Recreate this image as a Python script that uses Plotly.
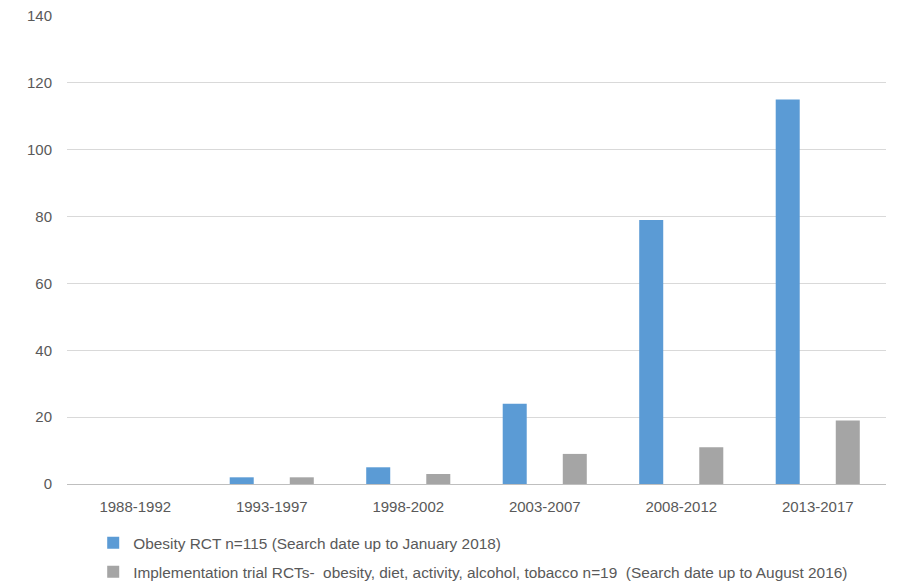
import plotly.graph_objects as go

categories = ["1988-1992", "1993-1997", "1998-2002", "2003-2007", "2008-2012", "2013-2017"]
obesity_rct = [0, 2, 5, 24, 79, 115]
implementation_rct = [0, 2, 3, 9, 11, 19]
name_obesity = "Obesity RCT n=115 (Search date up to January 2018)"
name_impl = "Implementation trial RCTs-  obesity, diet, activity, alcohol, tobacco n=19  (Search date up to August 2016)"

FONT = "Liberation Sans, Arial, sans-serif"
TXT = "#595959"
FS = 15

fig = go.Figure()
fig.add_trace(go.Bar(x=categories, y=obesity_rct, name=name_obesity,
                     marker=dict(color="#5B9BD5", line=dict(width=0)), legend="legend"))
fig.add_trace(go.Bar(x=categories, y=implementation_rct, name=name_impl,
                     marker=dict(color="#A5A5A5", line=dict(width=0)), legend="legend2"))

legend_common = dict(orientation="v", xanchor="left", yanchor="top", yref="container",
                     font=dict(family=FONT, size=15.4, color=TXT),
                     bgcolor="rgba(0,0,0,0)", itemwidth=30, itemclick=False)

fig.update_layout(
    width=897, height=582,
    margin=dict(l=67, r=11, t=16, b=98, autoexpand=False),
    paper_bgcolor="white", plot_bgcolor="white",
    barmode="group", bargap=0.12, bargroupgap=0.6,
    font=dict(family=FONT, size=FS, color=TXT),
    showlegend=True,
    legend=dict(x=0.032, y=0.096, **legend_common),
    legend2=dict(x=0.032, y=0.046, **legend_common),
    xaxis=dict(showgrid=False, showline=False, ticks="", zeroline=False,
               tickfont=dict(family=FONT, size=FS, color=TXT), ticklabelstandoff=12),
    yaxis=dict(range=[0, 140], dtick=20, showgrid=True, gridcolor="#D9D9D9", gridwidth=1,
               zeroline=True, zerolinecolor="#BFBFBF", zerolinewidth=1, showline=False,
               ticks="", tickfont=dict(family=FONT, size=FS, color=TXT), ticklabelstandoff=14),
)

fig.write_html("out.html")
